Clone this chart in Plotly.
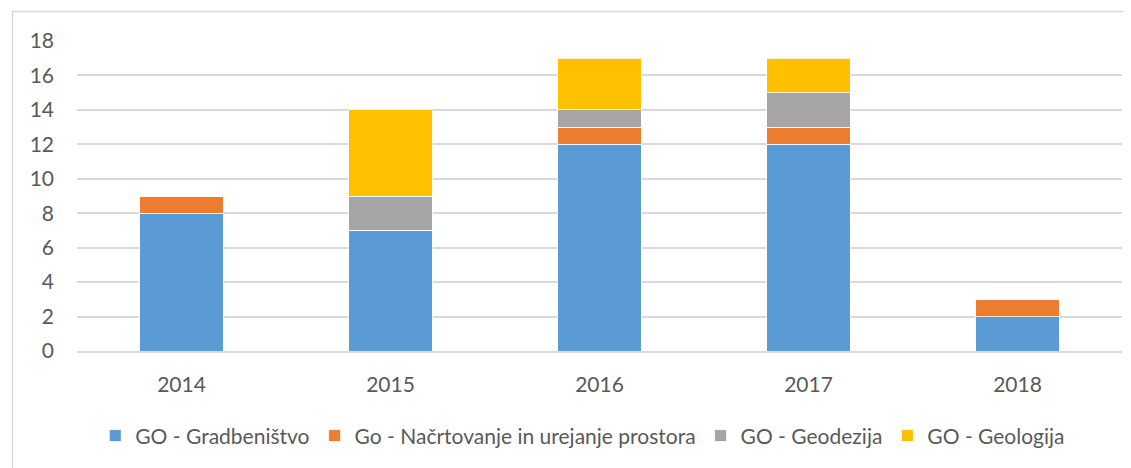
import plotly.graph_objects as go

years = ["2014", "2015", "2016", "2017", "2018"]
series_names = ["GO - Gradbeništvo", "Go - Načrtovanje in urejanje prostora", "GO - Geodezija", "GO - Geologija"]
gradbenistvo = [8, 7, 12, 12, 2]
nacrtovanje = [1, 0, 1, 1, 1]
geodezija = [0, 2, 1, 2, 0]
geologija = [0, 5, 3, 2, 0]
y_ticks = [0, 2, 4, 6, 8, 10, 12, 14, 16, 18]

colors = ["#5B9BD5", "#ED7D31", "#A5A5A5", "#FFC000"]
values = [gradbenistvo, nacrtovanje, geodezija, geologija]

fig = go.Figure()
for name, vals, col in zip(series_names, values, colors):
    fig.add_trace(go.Bar(
        x=years, y=vals, name=name,
        marker=dict(color=col, line=dict(color="white", width=0.8)),
    ))

font_family = "Lato, 'Open Sans', sans-serif"
# page body has an 8px margin; plot area in picture: x 77..1122, y 41..351
fig.update_layout(
    barmode="stack",
    bargap=0.6,
    width=1131, height=460,
    margin=dict(l=69, r=17, t=33, b=117),
    paper_bgcolor="white", plot_bgcolor="white",
    font=dict(family=font_family, size=21, color="#595959"),
    showlegend=True,
    legend=dict(orientation="h", x=0.484, xanchor="center", y=-0.274, yanchor="middle",
                font=dict(size=21, color="#595959"), traceorder="normal"),
    xaxis=dict(showgrid=False, showline=True, linecolor="#D9D9D9", linewidth=1.5,
               ticks="", ticklabelstandoff=14, tickfont=dict(size=21, color="#595959")),
    yaxis=dict(range=[0, 18], tickvals=y_ticks, showgrid=True, gridcolor="#D9D9D9",
               gridwidth=1.5, zeroline=False, showline=False, ticks="",
               ticklabelstandoff=22, tickfont=dict(size=21, color="#595959")),
    shapes=[dict(type="rect", xref="paper", yref="paper",
                 x0=-0.0617, x1=1.05, y0=-0.5, y1=1.095,
                 line=dict(color="#D9D9D9", width=1.5), fillcolor="rgba(0,0,0,0)", layer="below")],
)

fig.write_html("out.html")
